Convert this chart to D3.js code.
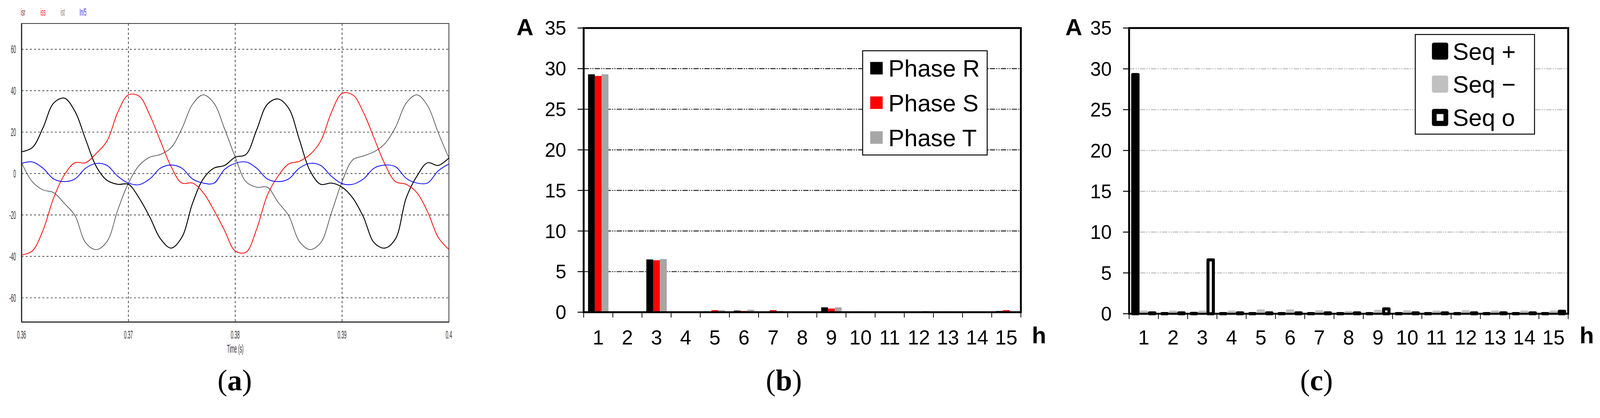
<!DOCTYPE html>
<html><head><meta charset="utf-8">
<script src="https://cdn.jsdelivr.net/npm/d3@7"></script>
<style>html,body{margin:0;padding:0;background:#fff;overflow:hidden}svg{display:block;width:100vw;height:auto;max-height:100vh}</style>
</head><body>
<svg id="s" viewBox="0 0 4227 1069" preserveAspectRatio="xMinYMin meet"></svg>
<script>
// ---------- Panel (a) data: time samples (ms after 0.36 s) and currents (A) ----------
const timeMs = d3.range(0, 41);
const isr = [10.5,12.5,22,34,36.4,30,16.4,3.3,-3.3,-5.2,-5.2,-11.8,-21,-31.5,-36,-30.8,-14.4,-2.6,2.6,3.9,
             7.9,9.2,21,33.4,36,31.5,16.4,1.3,-5.2,-4.6,-6.6,-11.8,-21,-33.4,-36,-31.5,-11.8,-1.3,5.2,3.9,7.5];
const iss = [-39.3,-37.4,-27.5,-11.8,-0.7,5.2,5.2,9.8,15.7,29.5,38,37.4,28.2,15.7,3.3,-4.6,-4.6,-9.2,-17.7,-27.5,
             -37.4,-38,-26.9,-10.5,-1.3,4.6,5.9,9.2,15.7,29.5,38.7,38,29.5,17,4.6,-3.9,-5.2,-9.2,-18.4,-30.8,-36.7];
const ist = [5.2,-3.9,-7.9,-9.2,-14.4,-20.3,-33.4,-36.7,-32.8,-17.7,-4.6,3.9,7.9,9.2,12.5,21.6,33.4,38,34,21.6,
             7.9,-3.9,-6.6,-6.6,-13.8,-20.3,-32.8,-36.7,-33.4,-19,-3.9,6.6,8.5,10.5,14.4,22.3,34,38,32.8,19.7,7.5];
const inN = [4.9,5.6,2.6,-2.6,-3.9,-2.6,2.6,4.9,3.9,-1.3,-4.6,-5.4,-2.6,2.6,4.1,2.6,-2.6,-4.6,-4.7,2.0,
             4.9,5.6,2.6,-2.6,-3.9,-2.6,2.6,4.9,3.9,-1.3,-4.9,-5.2,-2.6,2.6,4.1,3.3,-2.3,-4.6,-4.6,1.3,4.6];
const aYTicks = [-60,-40,-20,0,20,40,60];
const aXTicks = [0.36,0.37,0.38,0.39,0.4];
const aXTickLabels = ["0.36","0.37","0.38","0.39","0.4"];
const aLegend = ["isr","iss","ist","In/5"];

// ---------- Panel (b) data ----------
const harmonics = d3.range(1,16).map(String);
const phaseR = [29.3,0.05,6.5,0.05,0.05,0.2,0.05,0.05,0.6,0.05,0.05,0.05,0.05,0.05,0.15];
const phaseS = [29.1,0.05,6.4,0.05,0.25,0.15,0.25,0.05,0.45,0.1,0.05,0.05,0.1,0.1,0.25];
const phaseT = [29.3,0.1,6.55,0.1,0.25,0.3,0.15,0.05,0.6,0.1,0.1,0.15,0.1,0.1,0.1];
const bNames = ["Phase R","Phase S","Phase T"];
// ---------- Panel (c) data ----------
const seqPos = [29.3,0.02,0.05,0.02,0.02,0.02,0.02,0.02,0.02,0.02,0.02,0.02,0.02,0.02,0.02];
const seqNeg = [0.2,0.2,0.2,0.2,0.35,0.35,0.25,0.15,0.3,0.25,0.2,0.25,0.2,0.2,0.2];
const seqZero = [0.1,0.1,6.6,0.1,0.1,0.1,0.1,0.1,0.6,0.1,0.1,0.1,0.1,0.1,0.3];
const cNames = ["Seq +","Seq \u2212","Seq o"];
const yTicksBC = [0,5,10,15,20,25,30,35];

const svg = d3.select("#s");
const SANS = "Liberation Sans, Arial, sans-serif";
const NARROW = "Liberation Sans Narrow, Liberation Sans, sans-serif";

function squeezed(g, x, y, txt, anchor, color, size){
  return g.append("text").attr("x",0).attr("y",0).attr("dy","0.35em").attr("text-anchor",anchor)
    .attr("font-family",NARROW).attr("font-size",size).attr("fill",color)
    .attr("transform",`translate(${x},${y}) scale(0.55,1.35)`).text(txt);
}

// ================= Panel (a) =================
{
  const L=57, R=1186, T=62, B=850;
  const x = d3.scaleLinear().domain([0.36,0.40]).range([L,R]);
  const y = d3.scaleLinear().domain([-60,60]).range([786,130]);
  const g = svg.append("g");
  g.selectAll("line.hg").data(aYTicks).join("line").attr("class","hg")
    .attr("x1",L).attr("x2",R).attr("y1",d=>y(d)).attr("y2",d=>y(d))
    .attr("stroke","#444").attr("stroke-width",2).attr("stroke-dasharray","5,6");
  g.selectAll("line.vg").data(aXTicks.slice(1,4)).join("line").attr("class","vg")
    .attr("x1",d=>x(d)).attr("x2",d=>x(d)).attr("y1",T).attr("y2",B)
    .attr("stroke","#444").attr("stroke-width",2).attr("stroke-dasharray","6,6");
  g.append("rect").attr("x",L).attr("y",T).attr("width",R-L).attr("height",B-T)
    .attr("fill","none").attr("stroke","#333").attr("stroke-width",2);
  g.append("line").attr("x1",L).attr("x2",L).attr("y1",T).attr("y2",B).attr("stroke","#222").attr("stroke-width",3);
  g.append("line").attr("x1",L).attr("x2",R).attr("y1",B).attr("y2",B).attr("stroke","#222").attr("stroke-width",3);
  aYTicks.forEach(d=>squeezed(g, 42, y(d), d, "end", "#333", 22));
  aXTicks.forEach((d,i)=>squeezed(g, x(d), 883, aXTickLabels[i], "middle", "#333", 22));
  squeezed(g, x(0.38), 920, "Time (s)", "middle", "#333", 22);
  const lc = ["#8b2a2a","#ff2020","#8b7b6b","#3030ff"];
  const lx = [55,107,160,210];
  aLegend.forEach((n,i)=>squeezed(g, lx[i], 32, n, "start", lc[i], 20));
  const line = d3.line().x((d,i)=>x(0.36+timeMs[i]/1000)).y(d=>y(d)).curve(d3.curveCatmullRom);
  g.append("path").attr("d",line(ist)).attr("fill","none").attr("stroke","#3a3a3a").attr("stroke-width",1.6);
  g.append("path").attr("d",line(isr)).attr("fill","none").attr("stroke","#000").attr("stroke-width",2.4);
  g.append("path").attr("d",line(iss)).attr("fill","none").attr("stroke","#ff0000").attr("stroke-width",2);
  g.append("path").attr("d",line(inN)).attr("fill","none").attr("stroke","#0000ff").attr("stroke-width",2);
  svg.append("text").attr("x",620).attr("y",1030).attr("text-anchor","middle")
    .attr("font-family","Liberation Serif, serif").attr("font-size",78)
    .html('(<tspan font-weight="bold">a</tspan>)');
}

// ================= Bar panel builder =================
function barPanel(o){
  const {L,R,T,B} = o;
  const y = d3.scaleLinear().domain([0,35]).range([B,T]);
  const x0 = d3.scaleBand().domain(harmonics).range([L,R]).paddingInner(o.pad).paddingOuter(o.pad/2);
  const x1 = d3.scaleBand().domain(d3.range(3)).range([0,x0.bandwidth()]);
  const g = svg.append("g");
  g.selectAll("line.gr").data(yTicksBC.slice(1,7)).join("line").attr("class","gr")
    .attr("x1",L).attr("x2",R).attr("y1",d=>y(d)).attr("y2",d=>y(d))
    .attr("stroke",o.gridColor).attr("stroke-width",2.5).attr("stroke-dasharray","14,3,3,3,3,3");
  o.series.forEach((vals,si)=>{
    g.selectAll("rect.b"+si).data(vals).join("rect").attr("class","b"+si)
      .attr("x",(d,i)=>x0(harmonics[i])+x1(si)+o.inset)
      .attr("width",x1.bandwidth()-2*o.inset)
      .attr("y",d=>y(d))
      .attr("height",d=>Math.max(0,B-y(d)))
      .attr("fill",o.fills[si]).attr("stroke",o.strokes[si]).attr("stroke-width",o.sw[si])
      .attr("stroke-linejoin","round");
  });
  g.append("rect").attr("x",L).attr("y",T).attr("width",R-L).attr("height",B-T)
    .attr("fill","none").attr("stroke","#000").attr("stroke-width",5);
  g.selectAll("line.yt").data(yTicksBC).join("line").attr("class","yt")
    .attr("x1",L-16).attr("x2",L).attr("y1",d=>y(d)).attr("y2",d=>y(d)).attr("stroke","#000").attr("stroke-width",2.5);
  g.selectAll("text.yl").data(yTicksBC).join("text").attr("class","yl")
    .attr("x",L-46).attr("y",d=>y(d)).attr("dy","0.36em").attr("text-anchor","end")
    .attr("font-family",SANS).attr("font-size",51).text(d=>d);
  const bounds = harmonics.map(h=>x0(h)-x0.step()*x0.paddingInner()/2).concat([R]);
  g.selectAll("line.xt").data(bounds).join("line").attr("class","xt")
    .attr("x1",d=>d).attr("x2",d=>d).attr("y1",B).attr("y2",B+14).attr("stroke","#000").attr("stroke-width",2);
  g.selectAll("text.xl").data(harmonics).join("text").attr("class","xl")
    .attr("x",d=>x0(d)+x0.bandwidth()/2).attr("y",890).attr("dy","0.36em").attr("text-anchor","middle")
    .attr("font-family",SANS).attr("font-size",53).text(d=>d);
  g.append("text").attr("x",o.ax).attr("y",71).attr("dy","0.36em").attr("text-anchor","middle")
    .attr("font-family",SANS).attr("font-weight","bold").attr("font-size",62).text("A");
  g.append("text").attr("x",o.hx).attr("y",884).attr("dy","0.36em").attr("text-anchor","middle")
    .attr("font-family",SANS).attr("font-weight","bold").attr("font-size",62).text("h");
  const lg = o.legend;
  g.append("rect").attr("x",lg.x).attr("y",lg.y).attr("width",lg.w).attr("height",lg.h)
    .attr("fill","#fff").attr("stroke","#000").attr("stroke-width",2.5);
  o.names.forEach((n,i)=>{
    const cy = lg.rows[i];
    g.append("rect").attr("x",lg.sx).attr("y",cy-lg.sh/2).attr("width",lg.sw).attr("height",lg.sh)
      .attr("rx",lg.r).attr("fill",o.legFill[i]);
    if (o.legInner && o.legInner[i])
      g.append("rect").attr("x",lg.sx+lg.sw/2-9).attr("y",cy-9).attr("width",18).attr("height",18).attr("fill","#fff");
    g.append("text").attr("x",lg.tx).attr("y",cy).attr("dy","0.36em")
      .attr("font-family",SANS).attr("font-size",lg.fs).text(n);
  });
  svg.append("text").attr("x",o.labX).attr("y",1030).attr("text-anchor","middle")
    .attr("font-family","Liberation Serif, serif").attr("font-size",78)
    .html(`(<tspan font-weight="bold">${o.lab}</tspan>)`);
}

barPanel({L:1542,R:2697,T:74,B:824,pad:0.3,inset:0,gridColor:"#222",
  series:[phaseR,phaseS,phaseT],fills:["#000","#ff0000","#a6a6a6"],strokes:["none","none","none"],sw:[0,0,0],
  legFill:["#000","#ff0000","#a6a6a6"],names:bNames,ax:1387,hx:2745,
  legend:{x:2279,y:134,w:329,h:275,rows:[180,271,363],sx:2299,sw:33,sh:33,r:0,tx:2347,fs:63},
  labX:2071,lab:"b"});
barPanel({L:2983,R:4143,T:74,B:828,pad:0.14,inset:4,gridColor:"#bbb",
  series:[seqPos,seqNeg,seqZero],fills:["#000","#c0c0c0","#fff"],strokes:["#000","#c0c0c0","#000"],sw:[8,8,8],
  legFill:["#000","#c0c0c0","#000"],legInner:[false,false,true],names:cNames,ax:2837,hx:4192,
  legend:{x:3739,y:91,w:315,h:263,rows:[135,222,310],sx:3783,sw:43,sh:45,r:5,tx:3838,fs:63},
  labX:3478,lab:"c"});
</script>
</body></html>
